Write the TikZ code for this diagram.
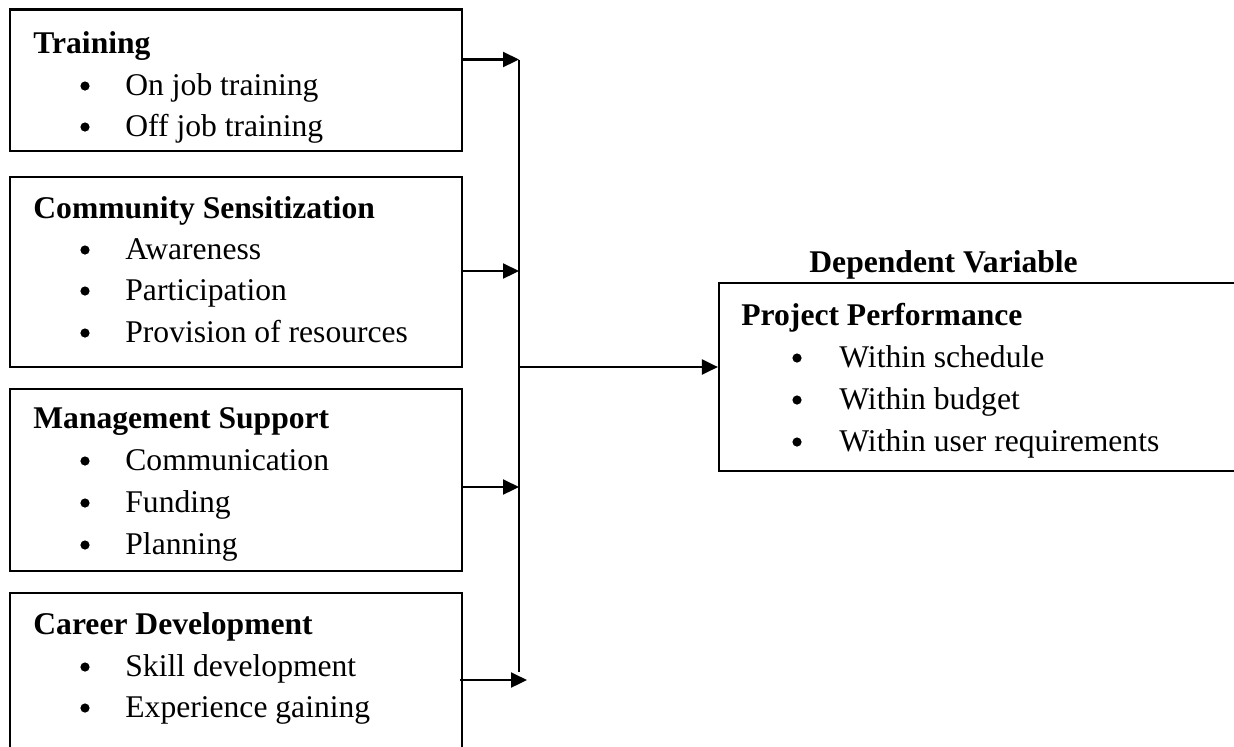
\documentclass[tikz,border=0pt]{standalone}
\usepackage{fontspec}
\setmainfont{Liberation Serif}
\usetikzlibrary{arrows.meta}
\begin{document}
\begin{tikzpicture}[x=0.5pt,y=-0.5pt,
  lbl/.style={inner sep=0pt, anchor=base west, font=\fontsize{15.8pt}{19pt}\selectfont},
  hdr/.style={inner sep=0pt, anchor=base west, font=\fontsize{15.8pt}{19pt}\selectfont\bfseries},
  dot/.style={circle, fill=black, draw=none, inner sep=0pt, minimum size=4.6pt},
  frame/.style={draw, line width=1.1pt, inner sep=0pt, rectangle},
  arr/.style={line width=1.1pt, -{Triangle[length=8pt,width=7.5pt]}},
  bus/.style={line width=1.1pt}]
\clip (0,0) rectangle (1234,746);
\fill[white] (0,0) rectangle (1234,746);

% boxes
\node[frame, minimum width=226pt, minimum height=70.75pt] (b1) at (236,80.25) {};
\node[frame, minimum width=226pt, minimum height=95pt] (b2) at (236,272) {};
\node[frame, minimum width=226pt, minimum height=91pt] (b3) at (236,480) {};
\node[frame, minimum width=226pt, minimum height=93.5pt] (b4) at (236,686.5) {};
\node[frame, minimum width=270.5pt, minimum height=94pt] (rb) at (989.5,377) {};

% Training
\node[hdr] (t0) at (33,53) {Training};
\node[dot] (t1b) at (85,86) {};
\node[lbl] (t1) at (125,95) {On job training};
\node[dot] (t2b) at (85,127) {};
\node[lbl] (t2) at (125,136) {Off job training};

% Community Sensitization
\node[hdr] (c0) at (33,218) {Community Sensitization};
\node[dot] (c1b) at (85,250) {};
\node[lbl] (c1) at (125,259) {Awareness};
\node[dot] (c2b) at (85,291) {};
\node[lbl] (c2) at (125,300) {Participation};
\node[dot] (c3b) at (85,333) {};
\node[lbl] (c3) at (125,342) {Provision of resources};

% Management Support
\node[hdr] (m0) at (33,428) {Management Support};
\node[dot] (m1b) at (85,461) {};
\node[lbl] (m1) at (125,470) {Communication};
\node[dot] (m2b) at (85,503) {};
\node[lbl] (m2) at (125,512) {Funding};
\node[dot] (m3b) at (85,545) {};
\node[lbl] (m3) at (125,554) {Planning};

% Career Development
\node[hdr] (k0) at (33,634) {Career Development};
\node[dot] (k1b) at (85,667) {};
\node[lbl] (k1) at (125,676) {Skill development};
\node[dot] (k2b) at (85,708) {};
\node[lbl] (k2) at (125,717) {Experience gaining};

% Dependent variable
\node[hdr] (dv) at (809,272) {Dependent Variable};
\node[hdr] (p0) at (741,325) {Project Performance};
\node[dot] (p1b) at (797,358) {};
\node[lbl] (p1) at (839,367) {Within schedule};
\node[dot] (p2b) at (797,400) {};
\node[lbl] (p2) at (839,409) {Within budget};
\node[dot] (p3b) at (797,442) {};
\node[lbl] (p3) at (839,451) {Within user requirements};

% connectors
\coordinate (j1) at (519,59.5);
\coordinate (j2) at (519,271);
\coordinate (j3) at (519,487);
\coordinate (j4) at (527,680);
\coordinate (jend) at (519,672);
\coordinate (jmain) at (519,367);
\draw[bus] (j1) -- (jend);
\draw[arr] (b1.east |- j1) -- (j1);
\draw[arr] (b2.east |- j2) -- (j2);
\draw[arr] (b3.east |- j3) -- (j3);
\draw[arr] ([xshift=-1.5pt]b4.east |- j4) -- (j4);
\draw[arr] (jmain) -- (rb.west |- jmain);
\end{tikzpicture}
\end{document}
